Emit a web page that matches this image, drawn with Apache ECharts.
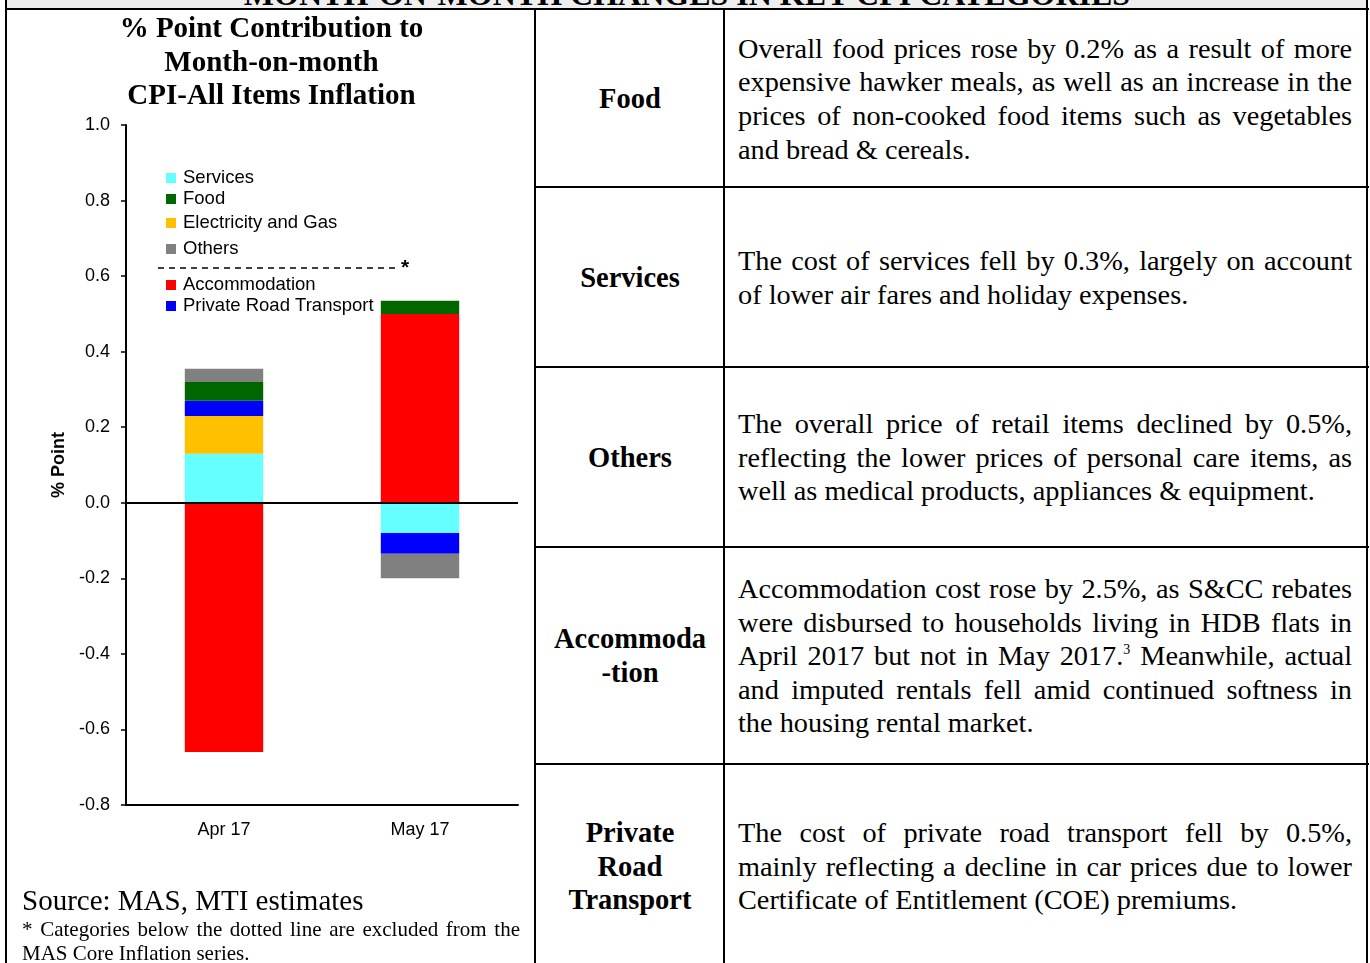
<!DOCTYPE html>
<html>
<head>
<meta charset="utf-8">
<script src="https://cdn.jsdelivr.net/npm/echarts@6/dist/echarts.min.js"></script>
<style>
  html, body { margin: 0; padding: 0; background: #fff; }
  body { width: 1370px; height: 963px; position: relative; overflow: hidden; font-family: 'Liberation Serif', serif; }
  .hline, .vline { position: absolute; background: #000; }
  .hline { height: 2px; }
  .vline { width: 2px; }
  .head { position: absolute; left: 7px; top: 0; width: 1360px; height: 8px; background: #efefef; overflow: hidden; }
  .head div { position: absolute; left: 0; right: 0; top: -22px; text-align: center; font-weight: bold; font-size: 32px; line-height: 32px; }
  .cat { position: absolute; left: 536px; width: 188px; display: flex; align-items: center; justify-content: center; text-align: center; font-weight: bold; font-size: 28.5px; line-height: 33.6px; }
  .txt { position: absolute; left: 738px; width: 614px; display: flex; align-items: center; font-size: 28.3px; line-height: 33.6px; }
  .txt .inner { width: 100%; }
  .ln { display: block; white-space: nowrap; text-align: justify; text-align-last: justify; }
  .ln.last { text-align-last: left; }
  sup { font-size: 14px; line-height: 0; vertical-align: 11px; }
  #chart { position: absolute; left: 8px; top: 0; width: 527px; height: 963px; }
  .src { position: absolute; left: 22px; top: 884px; font-size: 29px; line-height: 32px; }
  .note { position: absolute; left: 22px; top: 917px; width: 498px; font-size: 21px; line-height: 24px; }
</style>
</head>
<body>
<div class="head"><div>MONTH-ON-MONTH CHANGES IN KEY CPI CATEGORIES</div></div>

<div id="chart"></div>

<div class="src">Source: MAS, MTI estimates</div>
<div class="note"><span class="ln">* Categories below the dotted line are excluded from the</span><span class="ln last">MAS Core Inflation series.</span></div>

<div class="cat" style="top:10px;height:178px;">Food</div>
<div class="txt" style="top:10px;height:178px;"><div class="inner">
  <span class="ln">Overall food prices rose by 0.2% as a result of more</span>
  <span class="ln">expensive hawker meals, as well as an increase in the</span>
  <span class="ln">prices of non-cooked food items such as vegetables</span>
  <span class="ln last">and bread &amp; cereals.</span>
</div></div>

<div class="cat" style="top:188px;height:179px;">Services</div>
<div class="txt" style="top:188px;height:179px;"><div class="inner">
  <span class="ln">The cost of services fell by 0.3%, largely on account</span>
  <span class="ln last">of lower air fares and holiday expenses.</span>
</div></div>

<div class="cat" style="top:368px;height:179px;">Others</div>
<div class="txt" style="top:368px;height:179px;"><div class="inner">
  <span class="ln">The overall price of retail items declined by 0.5%,</span>
  <span class="ln">reflecting the lower prices of personal care items, as</span>
  <span class="ln last">well as medical products, appliances &amp; equipment.</span>
</div></div>

<div class="cat" style="top:548px;height:216px;">Accommoda<br>-tion</div>
<div class="txt" style="top:548px;height:216px;"><div class="inner">
  <span class="ln">Accommodation cost rose by 2.5%, as S&amp;CC rebates</span>
  <span class="ln">were disbursed to households living in HDB flats in</span>
  <span class="ln">April 2017 but not in May 2017.<sup>3</sup> Meanwhile, actual</span>
  <span class="ln">and imputed rentals fell amid continued softness in</span>
  <span class="ln last">the housing rental market.</span>
</div></div>

<div class="cat" style="top:765px;height:203px;">Private<br>Road<br>Transport</div>
<div class="txt" style="top:765px;height:203px;"><div class="inner">
  <span class="ln">The cost of private road transport fell by 0.5%,</span>
  <span class="ln">mainly reflecting a decline in car prices due to lower</span>
  <span class="ln last">Certificate of Entitlement (COE) premiums.</span>
</div></div>

<!-- table rules -->
<div class="hline" style="left:5px;top:8px;width:1364px;"></div>
<div class="hline" style="left:534px;top:186px;width:835px;"></div>
<div class="hline" style="left:534px;top:366px;width:835px;"></div>
<div class="hline" style="left:534px;top:546px;width:835px;"></div>
<div class="hline" style="left:534px;top:763px;width:835px;"></div>
<div class="vline" style="left:5px;top:0;height:963px;"></div>
<div class="vline" style="left:534px;top:8px;height:955px;"></div>
<div class="vline" style="left:723px;top:8px;height:955px;"></div>
<div class="vline" style="left:1366px;top:0;height:963px;"></div>

<script>
// % point contribution to m-o-m CPI-All Items inflation
var categories = ['Apr 17', 'May 17']
var services = [0.13, -0.08]
var electricityGas = [0.10, 0]
var privateRoadTransport = [0.04, -0.055]
var accommodation = [-0.66, 0.50]
var food = [0.05, 0.035]
var others = [0.035, -0.065]
var yTicks = [-0.8, -0.6, -0.4, -0.2, 0.0, 0.2, 0.4, 0.6, 0.8, 1.0]

var colors = {
    'Services': '#66FFFF',
    'Food': '#006600',
    'Electricity and Gas': '#FFC000',
    'Others': '#808080',
    'Accommodation': '#FF0000',
    'Private Road Transport': '#0000FF'
}

var myChart = echarts.init(document.getElementById('chart'))

function bar (name, data, withZero) {
    var s = {
        name: name,
        type: 'bar',
        stack: 'total',
        barWidth: '40%',
        data: data,
        itemStyle: { color: colors[name] }
    }
    if (withZero) {  // solid line across at 0
        s.markLine = {
            silent: true,
            symbol: 'none',
            label: { show: false },
            lineStyle: { color: '#000', width: 2, type: 'solid' },
            data: [{ yAxis: 0 }]
        }
    }
    return s
}

// one legend per row so the rows sit where the original puts them
var legendRows = [
    ['Services', 168], ['Food', 189], ['Electricity and Gas', 213], ['Others', 239],
    ['Accommodation', 275], ['Private Road Transport', 296]
]
var legends = legendRows.map(function (r) {
    return {
        data: [r[0]],
        left: 158,
        top: r[1],
        padding: 0,
        icon: 'rect',
        itemWidth: 10,
        itemHeight: 10,
        selectedMode: false,
        textStyle: { color: '#000', fontSize: 18.5, fontFamily: 'Liberation Sans', lineHeight: 20, padding: [0, 0, 0, 2] }
    }
})

var option = {
    animation: false,
    title: {
        text: '% Point Contribution to\nMonth-on-month\nCPI-All Items Inflation',
        left: 'center',
        top: 8,
        textStyle: { fontFamily: 'Liberation Serif', fontWeight: 'bold', fontSize: 29, lineHeight: 33.5, color: '#000' }
    },
    legend: legends,
    grid: { left: 118, right: 17, top: 125, bottom: 158 },
    xAxis: {
        type: 'category',
        data: categories,
        axisLine: { onZero: false, lineStyle: { color: '#000', width: 2 } },
        axisTick: { length: 5, lineStyle: { color: '#000', width: 1.5 } },
        axisLabel: { color: '#000', fontSize: 18, fontFamily: 'Liberation Sans', margin: 16 }
    },
    yAxis: {
        type: 'value',
        min: yTicks[0],
        max: yTicks[yTicks.length - 1],
        interval: 0.2,
        name: '% Point',
        nameLocation: 'middle',
        nameGap: 56,
        nameTextStyle: { color: '#000', fontWeight: 'bold', fontSize: 18, fontFamily: 'Liberation Sans' },
        axisLine: { show: true, lineStyle: { color: '#000', width: 2 } },
        axisTick: { show: true, length: 5, lineStyle: { color: '#000', width: 1.5 } },
        splitLine: { show: false },
        axisLabel: {
            color: '#000', fontSize: 18, fontFamily: 'Liberation Sans', margin: 16,
            formatter: function (v) { return v.toFixed(1) }
        }
    },
    graphic: [
        {
            type: 'line',
            shape: { x1: 150, y1: 268, x2: 388, y2: 268 },
            style: { stroke: '#000', lineWidth: 1.5, lineDash: [6, 5] }
        },
        {
            type: 'text',
            x: 393, y: 258,
            style: { text: '*', fill: '#000', font: 'bold 21px Liberation Sans' }
        }
    ],
    series: [
        bar('Services', services, true),
        bar('Electricity and Gas', electricityGas),
        bar('Private Road Transport', privateRoadTransport),
        bar('Accommodation', accommodation),
        bar('Food', food),
        bar('Others', others)
    ]
}
myChart.setOption(option)
</script>
</body>
</html>
